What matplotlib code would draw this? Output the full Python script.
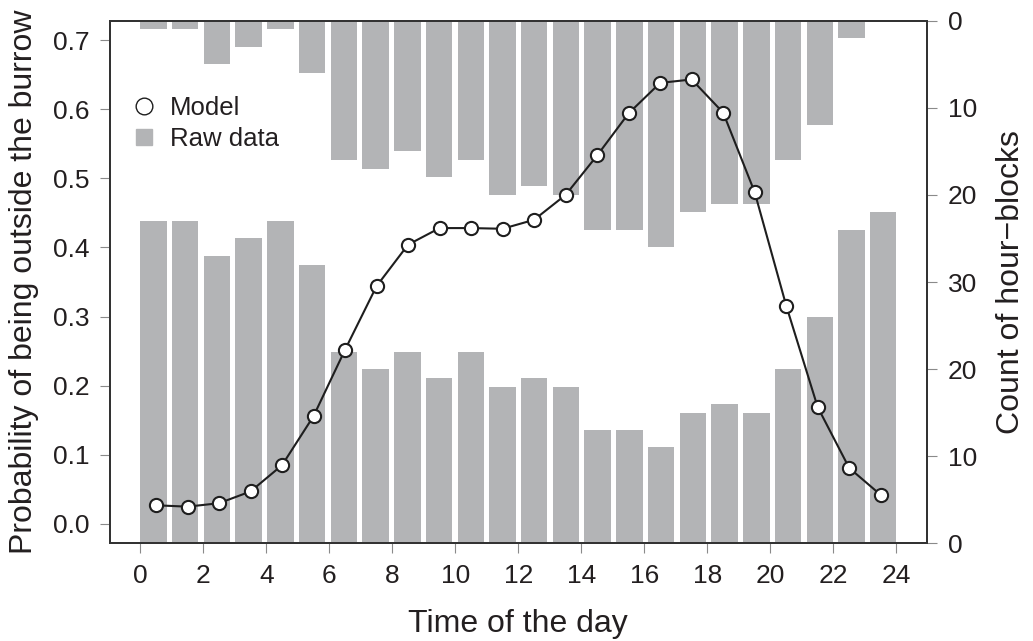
import numpy as np
import matplotlib
matplotlib.use("Agg")
import matplotlib.pyplot as plt
from matplotlib.lines import Line2D

plt.rcParams["font.family"] = ["Liberation Sans", "DejaVu Sans"]

# ---------------------------------------------------------
# DATA
# ---------------------------------------------------------
hours = np.arange(24)
model_prob = [0.027, 0.025, 0.030, 0.047, 0.085, 0.156, 0.252, 0.344,
              0.404, 0.428, 0.428, 0.427, 0.440, 0.476, 0.533, 0.594,
              0.638, 0.643, 0.595, 0.480, 0.316, 0.169, 0.081, 0.042]
# raw data: hour-blocks outside (bottom bars) / inside (top bars, hanging)
count_outside = [37, 37, 33, 35, 37, 32, 22, 20, 22, 19, 22, 18,
                 19, 18, 13, 13, 11, 15, 16, 15, 20, 26, 36, 38]
count_inside = [1, 1, 5, 3, 1, 6, 16, 17, 15, 18, 16, 20,
                19, 20, 24, 24, 26, 22, 21, 21, 16, 12, 2, 0]

right_ticks = [0, 10, 20, 30, 40, 50, 60]
right_labels = ["0", "10", "20", "30", "20", "10", "0"]
count_top = 60

# ---------------------------------------------------------
# STYLE
# ---------------------------------------------------------
bar_color = "#b3b4b6"
text_color = "#231f20"
spine_color = "#333333"
tick_color = "#8a8a8a"

fig = plt.figure(figsize=(10.33, 6.41), dpi=100)
ax = fig.add_axes([110 / 1033, 1 - 543.3 / 641, (926.7 - 110) / 1033, (543.3 - 20.7) / 641])
ax2 = ax.twinx()

# bars laid out like R's barplot (space = 0.2) across 0..24
w = 24 / (24 + 23 * 0.2)
left = hours * 1.2 * w
ax2.bar(left, count_outside, width=w, align="edge", color=bar_color, linewidth=0)
ax2.bar(left, count_inside, width=w, bottom=count_top - np.array(count_inside),
        align="edge", color=bar_color, linewidth=0)
ax2.set_ylim(0, count_top)
ax2.set_yticks(right_ticks)
ax2.set_yticklabels(right_labels)

# model on top of bars
ax.set_zorder(ax2.get_zorder() + 1)
ax.patch.set_visible(False)
ax.plot(hours + 0.5, model_prob, color="#1e1e1e", linewidth=1.5, marker="o",
        markersize=9.5, markerfacecolor="white", markeredgecolor="#1e1e1e",
        markeredgewidth=1.5, zorder=3)

ax.set_xlim(-0.96, 24.96)
ax.set_ylim(-0.028, 0.728)
ax.set_xticks(np.arange(0, 25, 2))
ax.set_yticks(np.arange(0, 0.71, 0.1))
ax.set_yticklabels([f"{v:.1f}" for v in np.arange(0, 0.71, 0.1)])

for a in (ax, ax2):
    a.tick_params(direction="out", length=7.5, width=0.8, color=tick_color,
                  pad=7.5, labelsize=19, labelcolor=text_color)
    for s in a.spines.values():
        s.set_color(spine_color)
        s.set_linewidth(1.4)

ax.set_xlabel("Time of the day", fontsize=23, color=text_color, labelpad=15)
ax.set_ylabel("Probability of being outside the burrow", fontsize=23,
              color=text_color, labelpad=10)
ax2.set_ylabel("Count of hour\u2212blocks", fontsize=23, color=text_color, labelpad=14)

handles = [
    Line2D([], [], linestyle="none", marker="o", markersize=12,
           markerfacecolor="white", markeredgecolor="#1e1e1e", markeredgewidth=1.0),
    Line2D([], [], linestyle="none", marker="s", markersize=12,
           markerfacecolor=bar_color, markeredgecolor=bar_color),
]
ax.legend(handles, ["Model", "Raw data"], loc="upper left",
          bbox_to_anchor=(131 / 1033, 1 - 96 / 641), bbox_transform=fig.transFigure,
          frameon=False, fontsize=18.5, handlelength=1.0, handletextpad=0.5,
          borderpad=0, borderaxespad=0, labelspacing=0.28, labelcolor=text_color)

fig.savefig("out.png", dpi=100)
